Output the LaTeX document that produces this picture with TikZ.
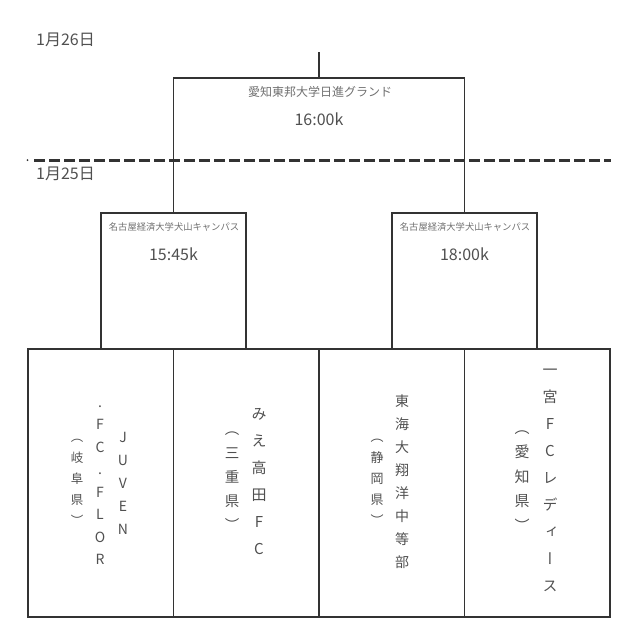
\documentclass[tikz,border=0pt]{standalone}
\usepackage{fontspec}
\setmainfont{Noto Sans CJK JP}
\newfontfamily\vjp[RawFeature=+vert]{Noto Sans CJK JP}
\definecolor{linec}{HTML}{333333}
\definecolor{txt}{HTML}{505050}
\definecolor{lbl}{HTML}{707070}
\begin{document}
\begin{tikzpicture}[x=1pt,y=-1pt,
  line/.style={draw=linec, line width=1.8pt},
  teambox/.style={line, rectangle, minimum width=145.5pt, minimum height=268pt, inner sep=0pt},
  vcol/.style={align=center, inner sep=0pt, text=txt},
  venue/.style={inner sep=0pt, text=lbl, font=\fontsize{12}{14}\selectfont},
  venuesmall/.style={inner sep=0pt, text=lbl, font=\fontsize{9.3}{11}\selectfont},
  timelbl/.style={inner sep=0pt, text=txt, font=\fontsize{16}{18}\selectfont},
  datelbl/.style={inner sep=0pt, text=txt, font=\fontsize{16}{18}\selectfont, anchor=west},
  dashline/.style={draw=linec, line width=3pt, dash pattern=on 11pt off 4pt}]
\useasboundingbox (0,0) rectangle (637,643);

% team boxes
\node[teambox] (t1) at (100.75,483) {};
\node[teambox] (t2) at (246.25,483) {};
\node[teambox] (t3) at (391.75,483) {};
\node[teambox] (t4) at (537.25,483) {};

% brackets
\coordinate (s1) at (173.5,213);
\coordinate (s2) at (464.5,213);
\coordinate (f) at (319,78);
\coordinate (top) at (319,52);
\draw[line] (t1.north) |- (s1) -| (t2.north);
\draw[line] (t3.north) |- (s2) -| (t4.north);
\draw[line] (s1) |- (f) -| (s2);
\draw[line] (f) -- (top);

% dashed day separator
\coordinate (dl) at (34,160);
\coordinate (dr) at (611,160);
\draw[dashline] (dl) -- (dr);
\node[circle, fill=linec, inner sep=0pt, minimum size=2pt] (dot) at (27.5,160) {};

% dates
\node[datelbl] (d26) at (36,40) {1月26日};
\node[datelbl] (d25) at (36,174) {1月25日};

% venues and times
\node[venue] (v0) at (320,92) {愛知東邦大学日進グランド};
\node[timelbl] (k0) at (319,119) {16:00k};
\node[venuesmall] (v1) at (174,227) {名古屋経済大学犬山キャンパス};
\node[timelbl] (k1) at (173.5,254) {15:45k};
\node[venuesmall] (v2) at (465,227) {名古屋経済大学犬山キャンパス};
\node[timelbl] (k2) at (464.5,254) {18:00k};

% team names (vertical)
\node[vcol, font=\vjp\fontsize{14}{23}\selectfont] (c1a) at (123,483) {J\\U\\V\\E\\N};
\node[vcol, font=\vjp\fontsize{14}{22.5}\selectfont] (c1b) at (100,485) {.\\F\\C\\.\\F\\L\\O\\R};
\node[vcol, font=\vjp\fontsize{12.5}{21}\selectfont] (c1c) at (77,482) {（\\岐\\阜\\県\\）};

\node[vcol, font=\vjp\fontsize{15}{27}\selectfont] (c2a) at (259,482) {み\\え\\高\\田\\F\\C};
\node[vcol, font=\vjp\fontsize{14.5}{24}\selectfont] (c2b) at (232,481) {（\\三\\重\\県\\）};

\node[vcol, font=\vjp\fontsize{14}{23}\selectfont] (c3a) at (402,482) {東\\海\\大\\翔\\洋\\中\\等\\部};
\node[vcol, font=\vjp\fontsize{13}{21}\selectfont] (c3b) at (377,482) {（\\静\\岡\\県\\）};

\node[vcol, font=\vjp\fontsize{15}{27}\selectfont] (c4a) at (550,480) {一\\宮\\F\\C\\レ\\デ\\ィ\\ー\\ス};
\node[vcol, font=\vjp\fontsize{15}{24.5}\selectfont] (c4b) at (522,481) {（\\愛\\知\\県\\）};
\end{tikzpicture}
\end{document}
